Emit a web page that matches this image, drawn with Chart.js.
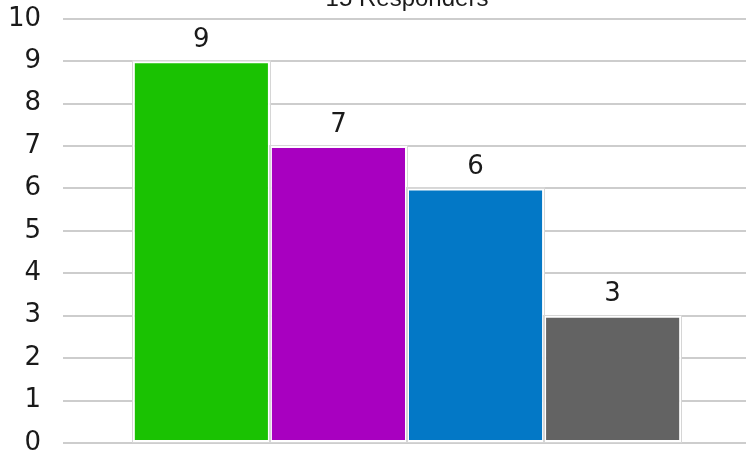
<!doctype html>
<html lang="en">

<head>
  <meta charset="UTF-8">
  <title>15 Responders</title>
  <style>
    html,
    body {
      margin: 0;
      padding: 0;
      background-color: #fff;
      overflow: hidden;
    }

    #datavis {
      display: block;
      margin-top: -40px;
    }
  </style>
</head>

<body>
  <canvas id="datavis" width="751" height="493"></canvas>

  <script src="https://cdn.jsdelivr.net/npm/chart.js@4.4.1/dist/chart.umd.min.js"></script>

  <script>

    // Answer counts, one dataset per answer so the bars sit side by side.
    const answers = ['Option 1', 'Option 2', 'Option 3', 'Option 4'];
    const counts = [9, 7, 6, 3];
    const yTicks = [0, 1, 2, 3, 4, 5, 6, 7, 8, 9, 10];

    const colors = ['#1ac202', '#a800c0', '#0378c6', '#636363'];

    // Light outline round each bar, outside the white border.
    const barOutline = {
      id: 'barOutline',
      afterDatasetsDraw(chart) {
        const ctx = chart.ctx;
        ctx.save();
        ctx.strokeStyle = '#d6d6d6';
        ctx.lineWidth = 1;
        chart.data.datasets.forEach(function (d, i) {
          chart.getDatasetMeta(i).data.forEach(function (bar) {
            const left = bar.x - bar.width / 2;
            ctx.strokeRect(Math.round(left) - 0.5, Math.round(bar.y) - 0.5,
              Math.round(bar.width) + 1, Math.round(bar.base - bar.y) + 1);
          });
        });
        ctx.restore();
      }
    };

    // Count printed above each bar.
    const valueLabels = {
      id: 'valueLabels',
      afterDatasetsDraw(chart) {
        const ctx = chart.ctx;
        ctx.save();
        ctx.font = '26px "DejaVu Sans", Verdana, sans-serif';
        ctx.fillStyle = '#1a1a1a';
        ctx.textAlign = 'center';
        ctx.textBaseline = 'alphabetic';
        chart.data.datasets.forEach(function (d, i) {
          chart.getDatasetMeta(i).data.forEach(function (bar, j) {
            ctx.fillText(String(d.data[j]), bar.x, bar.y - 14.5);
          });
        });
        ctx.restore();
      }
    };

    const datasets = answers.map(function (name, i) {
      return {
        label: name,
        data: [counts[i]],
        backgroundColor: colors[i],
        borderColor: '#ffffff',
        borderWidth: 2,
        borderSkipped: false,
        barPercentage: 1,
        categoryPercentage: 0.797
      };
    });

    new Chart('datavis', {
      type: 'bar',
      data: {
        labels: [''],
        datasets: datasets
      },
      plugins: [barOutline, valueLabels],
      options: {
        responsive: false,
        animation: false,
        layout: {
          padding: { left: 0, right: 0, top: 0, bottom: 10 }
        },
        plugins: {
          legend: { display: false },
          tooltip: { enabled: false },
          title: {
            display: true,
            fullSize: false,
            text: '15 Responders',
            color: '#1a1a1a',
            font: { family: '"Liberation Sans", Arial, sans-serif', size: 24, weight: 'normal', lineHeight: 1.2 },
            padding: { top: 25, bottom: 5 }
          }
        },
        scales: {
          x: {
            display: false
          },
          y: {
            min: yTicks[0],
            max: yTicks[yTicks.length - 1],
            afterBuildTicks: function (axis) {
              axis.ticks = yTicks.map(v => ({ value: v }));
            },
            // fixed gutter for the labels, no extra space above or below
            afterFit: function (axis) {
              axis.width = 63;
              axis.paddingTop = 0;
              axis.paddingBottom = 0;
            },
            border: { display: false },
            grid: {
              color: '#cdcdcd',
              lineWidth: 2,
              drawTicks: false
            },
            ticks: {
              padding: 22,
              color: '#1a1a1a',
              font: { family: '"DejaVu Sans", Verdana, sans-serif', size: 26 }
            }
          }
        }
      }
    });
  </script>
</body>

</html>
